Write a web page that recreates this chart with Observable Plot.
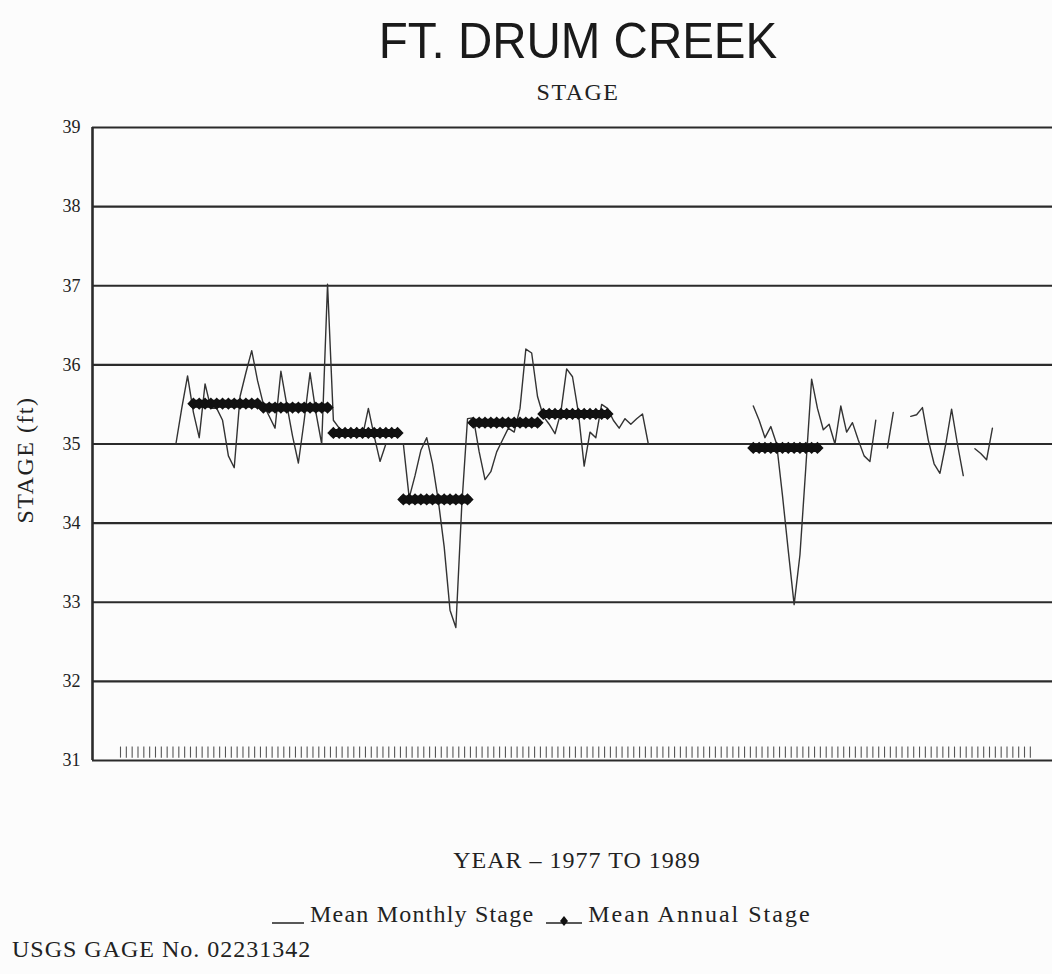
<!DOCTYPE html>
<html><head><meta charset="utf-8">
<script src="https://cdn.jsdelivr.net/npm/d3@7"></script>
<script src="https://cdn.jsdelivr.net/npm/@observablehq/plot@0.6"></script>
<style>
html,body{margin:0;padding:0;background:#fcfcfc;}
#page{position:relative;width:1052px;height:974px;overflow:hidden;font-family:"Liberation Serif","Times New Roman",serif;color:#222;}
.t{position:absolute;white-space:nowrap;line-height:1;}
#chart{position:absolute;left:0;top:100px;}
</style></head><body>
<div id="page">
  <div class="t" id="title" style="left:578px;top:16px;font-family:'Liberation Sans',Arial,sans-serif;font-size:50px;transform:translateX(-50%) scaleX(0.95);color:#1a1a1a;">FT. DRUM CREEK</div>
  <div class="t" id="subtitle" style="left:578px;top:80px;font-size:24px;letter-spacing:1.5px;transform:translateX(-50%);">STAGE</div>
  <div class="t" id="ylabel" style="left:25px;top:460px;font-size:24px;letter-spacing:1.5px;transform:translate(-50%,-50%) rotate(-90deg);">STAGE (ft)</div>
  <div id="chart"></div>
  <div class="t" id="xlabel" style="left:577px;top:848px;font-size:24px;letter-spacing:1px;transform:translateX(-50%);">YEAR – 1977 TO 1989</div>
  <div class="t" id="legend" style="left:272px;top:902px;font-size:24px;letter-spacing:1.2px;display:flex;align-items:flex-end;">
    <svg width="32" height="22" style="margin-right:6px"><line x1="0" y1="19" x2="32" y2="19" stroke="#222" stroke-width="1.5"/></svg>
    <span>Mean Monthly Stage</span>
    <svg width="36" height="22" style="margin:0 6px 0 12px"><line x1="0" y1="19" x2="36" y2="19" stroke="#222" stroke-width="1.5"/><path d="M18,14 L22,19 L18,24 L14,19 Z" fill="#111" transform="translate(0,-2)"/></svg>
    <span style="letter-spacing:2px">Mean Annual Stage</span>
  </div>
  <div class="t" id="caption" style="left:12px;top:937px;font-size:24px;letter-spacing:1px;">USGS GAGE No. 02231342</div>
</div>
<script>
// ---- data ----
const yTicks = [31, 32, 33, 34, 35, 36, 37, 38, 39];
const baseYear = 1977;               // month index 0 = Jan 1977
const firstMonthIndex = 9;           // Oct 1977 = first monthly value
const monthlyStage = [
  35.0, 35.45, 35.86,                                                        // Oct-Dec 1977
  35.4, 35.08, 35.76, 35.45, 35.45, 35.3, 34.85, 34.7, 35.6, 35.9, 36.18, 35.8, // 1978
  35.5, 35.35, 35.2, 35.92, 35.5, 35.1, 34.76, 35.3, 35.9, 35.4, 35.0, 37.02,   // 1979
  35.3, 35.2, 35.15, 35.1, 35.2, 35.1, 35.45, 35.1, 34.78, 35.0, 35.0, 35.0,    // 1980
  35.0, 34.32, 34.6, 34.92, 35.08, 34.75, 34.28, 33.7, 32.9, 32.68, 34.2, 35.32, // 1981
  35.33, 34.9, 34.55, 34.65, 34.9, 35.05, 35.2, 35.15, 35.45, 36.2, 36.15, 35.6, // 1982
  35.35, 35.25, 35.13, 35.4, 35.95, 35.85, 35.4, 34.72, 35.15, 35.08, 35.5, 35.45, // 1983
  35.3, 35.2, 35.32, 35.25, 35.32, 35.38, 35.0, null, null, null, null, null,  // 1984
  null, null, null, null, null, null, null, null, null, null, null, null,      // 1985
  35.48, 35.3, 35.08, 35.22, 35.0, 34.35, 33.65, 32.97, 33.6, 34.7, 35.82, 35.45, // 1986
  35.18, 35.25, 35.0, 35.48, 35.15, 35.27, 35.05, 34.85, 34.78, 35.3, null, 34.95, // 1987
  35.4, null, null, 35.35, 35.37, 35.46, 35.05, 34.75, 34.63, 35.0, 35.44, 35.0, // 1988
  34.6, null, 34.94, 34.88, 34.8, 35.2                                          // 1989
];
const annualYears = [1978, 1979, 1980, 1981, 1982, 1983, 1986];
const annualStage = [35.51, 35.46, 35.14, 34.3, 35.27, 35.38, 34.95];
const monthTicks = d3.range(0, 157);           // Jan 1977 .. Jan 1990
const xDomain = [-4.8, 159.8];

// ---- derived tables ----
const monthly = monthlyStage.map((v, i) => ({m: firstMonthIndex + i + 0.5, v}));
const annual = annualYears.flatMap((yr, i) =>
  d3.range(12).map(k => ({yr, m: (yr - baseYear) * 12 + k + 0.5, v: annualStage[i]})));

const chart = Plot.plot({
  width: 1052, height: 700,
  marginLeft: 92, marginRight: 0, marginTop: 27, marginBottom: 40,
  x: {domain: xDomain, axis: null},
  y: {domain: [31, 39], axis: null},
  style: {background: "transparent", fontFamily: "'Liberation Serif', serif", color: "#222"},
  marks: [
    Plot.ruleY(yTicks, {stroke: "#2b2b2b", strokeWidth: 2.2}),
    Plot.ruleX(xDomain.slice(0, 1), {y1: 31, y2: 39, stroke: "#2b2b2b", strokeWidth: 2.6}),
    Plot.ruleX(monthTicks, {y1: 31.03, y2: 31.17, stroke: "#555", strokeWidth: 1.1}),
    Plot.line(monthly, {x: "m", y: "v", stroke: "#333", strokeWidth: 1.4}),
    Plot.line(annual, {x: "m", y: "v", z: "yr", stroke: "#111", strokeWidth: 8}),
    Plot.dot(annual, {x: "m", y: "v", symbol: "diamond2", r: 5.5, fill: "#111", stroke: "none"}),
    Plot.axisY(yTicks, {tickSize: 0, tickPadding: 12, fontSize: 18, tickFormat: d3.format("d"), label: null})
  ]
});
document.getElementById("chart").appendChild(chart);
</script>
</body></html>
